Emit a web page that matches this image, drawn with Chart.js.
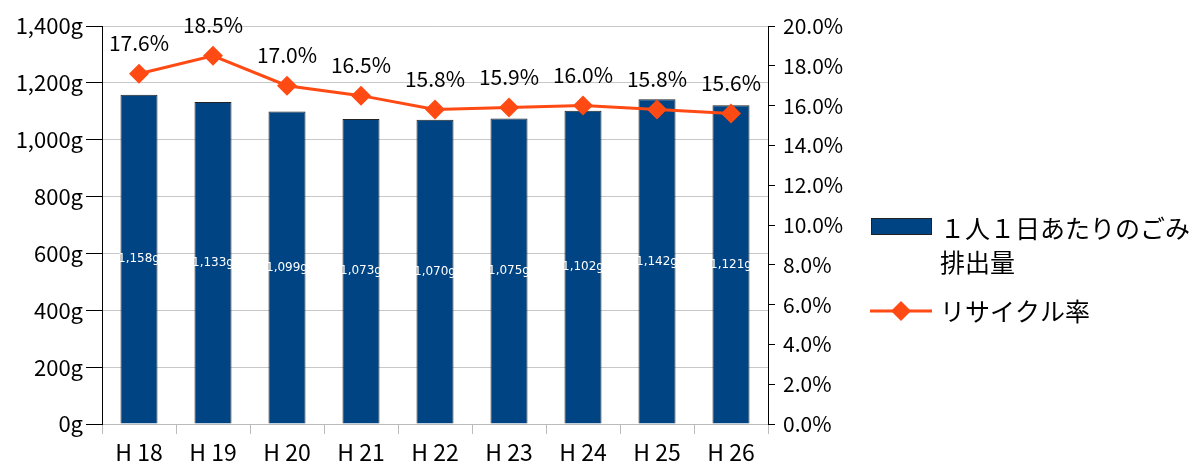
<!DOCTYPE html>
<html>
<head>
<meta charset="utf-8">
<script src="https://cdn.jsdelivr.net/npm/chart.js@4/dist/chart.umd.min.js"></script>
<style>
  html, body { margin: 0; padding: 0; background: #fff; }
  #wrap { width: 1202px; height: 464px; position: relative; }
</style>
</head>
<body>
<div id="wrap"><canvas id="chart" width="1202" height="464"></canvas></div>
<script>
// chart data
const years = ['H 18', 'H 19', 'H 20', 'H 21', 'H 22', 'H 23', 'H 24', 'H 25', 'H 26'];
const wastePerDay = [1158, 1133, 1099, 1073, 1070, 1075, 1102, 1142, 1121];
const recycleRate = [17.6, 18.5, 17.0, 16.5, 15.8, 15.9, 16.0, 15.8, 15.6];
const legendLabels = [['１人１日あたりのごみ', '排出量'], ['リサイクル率']];

const FONT = "'Noto Sans CJK JP', 'Noto Sans', sans-serif";
const BAR_COLOR = '#004484';
const LINE_COLOR = '#FF4A14';

// value labels + custom legend on the right
const labelPlugin = {
    id: 'labels',
    afterDatasetsDraw(chart) {
        const ctx = chart.ctx;
        ctx.save();
        ctx.textAlign = 'center';
        ctx.textBaseline = 'middle';

        // bar labels, white, in middle of bar
        ctx.fillStyle = '#fff';
        ctx.font = "12px 'DejaVu Sans', sans-serif";
        chart.getDatasetMeta(1).data.forEach((bar, i) => {
            const mid = (bar.y + bar.base) / 2;
            ctx.fillText(wastePerDay[i].toLocaleString('en-US') + 'g', bar.x, mid);
        });

        // line labels above points
        ctx.fillStyle = '#000';
        ctx.font = '21px ' + FONT;
        chart.getDatasetMeta(0).data.forEach((pt, i) => {
            ctx.fillText(recycleRate[i].toFixed(1) + '%', pt.x, pt.y - 31);
        });

        // legend
        ctx.textAlign = 'left';
        ctx.font = '25px ' + FONT;
        ctx.fillStyle = BAR_COLOR;
        ctx.fillRect(871, 218, 61, 17);
        ctx.strokeStyle = '#222';
        ctx.lineWidth = 1;
        ctx.strokeRect(871.5, 218.5, 60, 16);
        ctx.fillStyle = '#000';
        ctx.fillText(legendLabels[0][0], 940, 228);
        ctx.fillText(legendLabels[0][1], 940, 262);

        ctx.strokeStyle = LINE_COLOR;
        ctx.lineWidth = 3;
        ctx.beginPath();
        ctx.moveTo(870, 311);
        ctx.lineTo(932, 311);
        ctx.stroke();
        ctx.fillStyle = LINE_COLOR;
        ctx.beginPath();
        ctx.moveTo(901, 301);
        ctx.lineTo(911, 311);
        ctx.lineTo(901, 321);
        ctx.lineTo(891, 311);
        ctx.closePath();
        ctx.fill();
        ctx.fillStyle = '#000';
        ctx.fillText(legendLabels[1][0], 940, 311);
        ctx.restore();
    }
};

new Chart(document.getElementById('chart'), {
    data: {
        labels: years,
        datasets: [
            {
                type: 'line',
                label: legendLabels[1][0],
                data: recycleRate,
                yAxisID: 'yRate',
                borderColor: LINE_COLOR,
                backgroundColor: LINE_COLOR,
                borderWidth: 3,
                pointStyle: 'rectRot',
                pointRadius: 10,
                pointHoverRadius: 10,
                pointBorderWidth: 0,
                tension: 0,
                order: 0
            },
            {
                type: 'bar',
                label: legendLabels[0].join(''),
                data: wastePerDay,
                yAxisID: 'yWaste',
                backgroundColor: BAR_COLOR,
                borderColor: '#222',
                borderWidth: 1,
                barPercentage: 0.5,
                categoryPercentage: 1,
                order: 1
            }
        ]
    },
    options: {
        responsive: false,
        animation: false,
        layout: { padding: { top: 26, right: 344, bottom: 0, left: 0 } },
        plugins: {
            legend: { display: false },
            tooltip: { enabled: false }
        },
        scales: {
            x: {
                offset: true,
                grid: { offset: true, drawOnChartArea: false, color: '#bbb', tickLength: 10 },
                border: { color: '#bbb' },
                ticks: { color: '#000', font: { family: FONT, size: 23 }, padding: 4 },
                afterFit(s) { s.height = 40; }
            },
            yWaste: {
                position: 'left',
                min: 0,
                max: 1400,
                ticks: {
                    stepSize: 200,
                    color: '#000',
                    font: { family: FONT, size: 22 },
                    padding: 3,
                    callback: v => v.toLocaleString('en-US') + 'g'
                },
                grid: { color: '#c8c8c8', tickColor: '#000', tickLength: 16 },
                border: { color: '#000' },
                afterFit(s) { s.width = 102; }
            },
            yRate: {
                position: 'right',
                min: 0,
                max: 20,
                ticks: {
                    stepSize: 2,
                    color: '#000',
                    font: { family: FONT, size: 21 },
                    padding: 8,
                    callback: v => v.toFixed(1) + '%'
                },
                grid: { drawOnChartArea: false, tickColor: '#000', tickLength: 7 },
                border: { color: '#000' },
                afterFit(s) { s.width = 90; }
            }
        }
    },
    plugins: [labelPlugin]
});
</script>
</body>
</html>
